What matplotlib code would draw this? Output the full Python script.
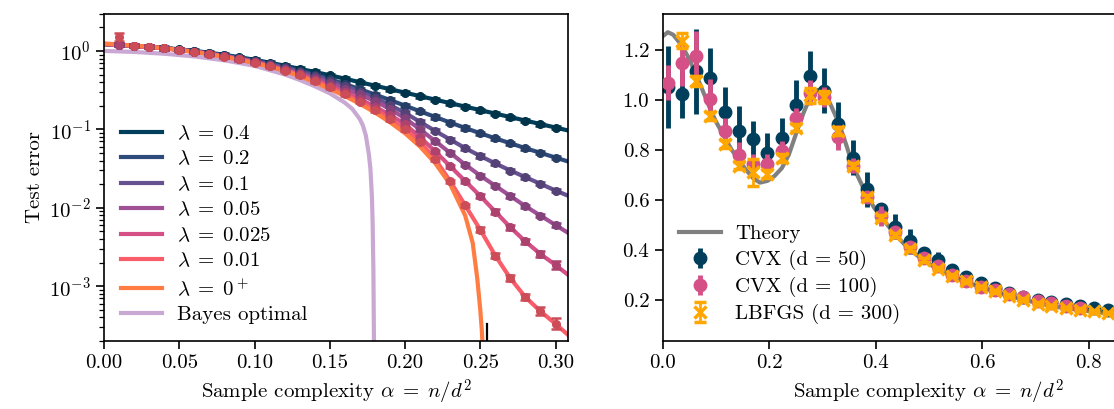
import numpy as np
import matplotlib.pyplot as plt
import matplotlib as mpl
from matplotlib.colors import to_rgb

mpl.rcParams["font.family"] = "serif"
mpl.rcParams["font.serif"] = ["cmr10"]
mpl.rcParams["mathtext.fontset"] = "cm"
mpl.rcParams["axes.unicode_minus"] = False
mpl.rcParams["axes.formatter.use_mathtext"] = True
mpl.rcParams["font.size"] = 15

# ---------------- left panel: theory curves (log10 of test error) ----------------
alpha_grid = [0.00, 0.01, 0.02, 0.03, 0.04, 0.05, 0.06, 0.07, 0.08, 0.09,
              0.10, 0.11, 0.12, 0.13, 0.14, 0.15, 0.16, 0.17, 0.18, 0.19,
              0.20, 0.21, 0.22, 0.23, 0.24, 0.25, 0.26, 0.27, 0.28, 0.29,
              0.30, 0.31]

log_l04 = [0.085, 0.077, 0.066, 0.053, 0.038, 0.020, 0.000, -0.023, -0.050, -0.080,
           -0.113, -0.150, -0.188, -0.228, -0.268, -0.310, -0.354, -0.399, -0.443, -0.488,
           -0.532, -0.577, -0.621, -0.666, -0.710, -0.755, -0.799, -0.844, -0.888, -0.933,
           -0.977, -1.022]
log_l02 = [0.086, 0.077, 0.066, 0.052, 0.036, 0.017, -0.005, -0.030, -0.058, -0.089,
           -0.124, -0.162, -0.204, -0.250, -0.302, -0.360, -0.422, -0.488, -0.556, -0.626,
           -0.698, -0.770, -0.842, -0.913, -0.983, -1.050, -1.115, -1.178, -1.240, -1.300,
           -1.360, -1.420]
log_l01 = [0.087, 0.077, 0.066, 0.051, 0.035, 0.015, -0.008, -0.034, -0.063, -0.096,
           -0.132, -0.172, -0.215, -0.263, -0.318, -0.380, -0.445, -0.520, -0.600, -0.690,
           -0.790, -0.905, -1.020, -1.130, -1.240, -1.340, -1.435, -1.525, -1.610, -1.695,
           -1.780, -1.860]
log_l005 = [0.088, 0.078, 0.066, 0.051, 0.034, 0.014, -0.010, -0.036, -0.066, -0.100,
            -0.140, -0.183, -0.230, -0.285, -0.345, -0.410, -0.480, -0.555, -0.640, -0.740,
            -0.860, -1.000, -1.150, -1.300, -1.450, -1.590, -1.720, -1.850, -1.980, -2.100,
            -2.220, -2.340]
log_l0025 = [0.089, 0.078, 0.066, 0.051, 0.034, 0.013, -0.011, -0.038, -0.069, -0.104,
             -0.145, -0.190, -0.240, -0.300, -0.370, -0.445, -0.525, -0.615, -0.710, -0.815,
             -0.935, -1.100, -1.280, -1.470, -1.660, -1.850, -2.050, -2.250, -2.430, -2.590,
             -2.730, -2.880]
log_l001 = [0.090, 0.079, 0.066, 0.051, 0.033, 0.012, -0.012, -0.040, -0.072, -0.108,
            -0.150, -0.195, -0.250, -0.310, -0.385, -0.465, -0.555, -0.650, -0.755, -0.870,
            -1.000, -1.160, -1.380, -1.660, -1.970, -2.280, -2.610, -2.900, -3.140, -3.320,
            -3.480, -3.650]

alpha_zero = [0.00, 0.01, 0.02, 0.03, 0.04, 0.05, 0.06, 0.07, 0.08, 0.09,
              0.10, 0.11, 0.12, 0.13, 0.14, 0.15, 0.16, 0.17, 0.18, 0.19,
              0.20, 0.21, 0.22, 0.23, 0.24, 0.245, 0.248, 0.250, 0.251, 0.252, 0.2525]
log_l0 = [0.095, 0.082, 0.068, 0.052, 0.034, 0.012, -0.013, -0.042, -0.075, -0.113,
          -0.155, -0.200, -0.255, -0.320, -0.400, -0.485, -0.575, -0.675, -0.785, -0.910,
          -1.050, -1.220, -1.430, -1.700, -2.100, -2.450, -2.900, -3.300, -3.550, -3.900,
          -4.500]

alpha_bayes = [0.00, 0.02, 0.04, 0.06, 0.08, 0.10, 0.12, 0.13, 0.14, 0.15, 0.16,
               0.165, 0.17, 0.172, 0.174, 0.176, 0.177, 0.178, 0.1785, 0.179, 0.1795]
log_bayes = [0.000, -0.013, -0.036, -0.070, -0.120, -0.190, -0.300, -0.370, -0.450,
             -0.540, -0.660, -0.740, -0.870, -0.950, -1.080, -1.320, -1.500, -1.850,
             -2.200, -2.800, -4.000]

# simulations sit on the theory curves at alpha = 0.01 ... 0.30
alpha_sim_left = alpha_grid[1:31]
err_dec_small = [0.02] * 30
err_dec_l0025 = [0.02] * 25 + [0.03, 0.03, 0.03, 0.04, 0.05]
err_dec_l001 = [0.05] + [0.02] * 23 + [0.03, 0.03, 0.04, 0.04, 0.05, 0.07]
first_sim_l001 = 0.176  # outlier at alpha = 0.01

lambdas = [r"$\lambda\;=\;0.4$", r"$\lambda\;=\;0.2$", r"$\lambda\;=\;0.1$",
           r"$\lambda\;=\;0.05$", r"$\lambda\;=\;0.025$", r"$\lambda\;=\;0.01$"]
lam_logs = [log_l04, log_l02, log_l01, log_l005, log_l0025, log_l001]
lam_errs = [err_dec_small, err_dec_small, err_dec_small, err_dec_small,
            err_dec_l0025, err_dec_l001]
lam_colors = ["#003f5c", "#2f4b7c", "#665191", "#a05195", "#d45087", "#f95d6a"]
zero_color = "#ff7c43"
bayes_color = "#c9a9d3"

# ---------------- right panel ----------------
alpha_sim = [0.010, 0.037, 0.063, 0.090, 0.117, 0.143, 0.170, 0.197, 0.224, 0.250,
             0.277, 0.304, 0.330, 0.357, 0.384, 0.410, 0.437, 0.464, 0.490, 0.517,
             0.544, 0.570, 0.597, 0.624, 0.650, 0.677, 0.704, 0.730, 0.757, 0.784,
             0.810, 0.837]

cvx50 = [1.053, 1.024, 1.116, 1.089, 0.951, 0.876, 0.843, 0.787, 0.849, 0.980,
         1.096, 1.037, 0.904, 0.769, 0.643, 0.563, 0.493, 0.433, 0.387, 0.360,
         0.320, 0.290, 0.265, 0.245, 0.228, 0.212, 0.200, 0.190, 0.182, 0.174,
         0.167, 0.160]
cvx50_err = [0.165, 0.095, 0.170, 0.120, 0.100, 0.100, 0.075, 0.080, 0.080, 0.100,
             0.100, 0.090, 0.090, 0.070, 0.070, 0.020, 0.050, 0.050, 0.020, 0.030,
             0.015, 0.010, 0.010, 0.010, 0.010, 0.010, 0.010, 0.008, 0.008, 0.008,
             0.008, 0.008]

cvx100 = [1.069, 1.147, 1.177, 1.004, 0.877, 0.780, 0.744, 0.744, 0.797, 0.929,
          1.029, 1.011, 0.851, 0.737, 0.613, 0.536, 0.473, 0.409, 0.367, 0.333,
          0.300, 0.273, 0.251, 0.240, 0.223, 0.209, 0.196, 0.187, 0.176, 0.167]
cvx100_err = [0.070, 0.090, 0.100, 0.080, 0.050, 0.050, 0.040, 0.040, 0.040, 0.040,
              0.050, 0.040, 0.050, 0.030, 0.020, 0.040, 0.020, 0.020, 0.015, 0.010,
              0.010, 0.010, 0.010, 0.010, 0.010, 0.010, 0.010, 0.010, 0.010, 0.010]

lbfgs = [1.237, 1.076, 0.937, 0.824, 0.737, 0.710, 0.704, 0.767, 0.889, 1.020,
         1.013, 0.876, 0.737, 0.611, 0.529, 0.460, 0.403, 0.360, 0.323, 0.296,
         0.273, 0.251, 0.233, 0.216, 0.200, 0.184, 0.173, 0.167, 0.160, 0.153,
         0.147]
lbfgs_err = [0.030, 0.020, 0.015, 0.015, 0.015, 0.055, 0.015, 0.015, 0.015, 0.030,
             0.025, 0.015, 0.010, 0.010, 0.010, 0.008, 0.008, 0.008, 0.006, 0.006,
             0.005, 0.005, 0.005, 0.005, 0.005, 0.005, 0.005, 0.005, 0.005, 0.005,
             0.005]

alpha_theory = [0.000, 0.010, 0.020, 0.036, 0.050, 0.062, 0.075, 0.089, 0.100, 0.116,
                0.130, 0.143, 0.157, 0.170, 0.183, 0.197, 0.210, 0.224, 0.237, 0.251,
                0.265, 0.278, 0.291, 0.300, 0.304, 0.317, 0.331, 0.345, 0.358, 0.372,
                0.385, 0.398, 0.412, 0.437, 0.464, 0.490, 0.517, 0.544, 0.570, 0.597,
                0.624, 0.650, 0.677, 0.704, 0.730, 0.757, 0.784, 0.810, 0.837, 0.870,
                0.900, 0.950, 1.000]
theory = [1.255, 1.272, 1.262, 1.220, 1.165, 1.107, 1.040, 0.967, 0.915, 0.853,
          0.800, 0.760, 0.720, 0.687, 0.669, 0.676, 0.695, 0.727, 0.780, 0.867,
          0.950, 1.015, 1.040, 1.040, 1.033, 0.975, 0.907, 0.820, 0.733, 0.670,
          0.613, 0.566, 0.527, 0.460, 0.400, 0.358, 0.322, 0.293, 0.270, 0.250,
          0.232, 0.216, 0.200, 0.186, 0.174, 0.165, 0.158, 0.151, 0.145, 0.140,
          0.135, 0.128, 0.122]


def darker(c, f=0.82):
    r, g, b = to_rgb(c)
    return (r * f, g * f, b * f)


def style_axes(ax):
    for s in ax.spines.values():
        s.set_linewidth(1.2)
    ax.tick_params(which="major", length=6, width=1.2, direction="out")
    ax.tick_params(which="minor", length=3.5, width=0.9, direction="out")


fig = plt.figure(figsize=(11.14, 4.09), dpi=100)
W, H = 1114.0, 409.0
ax1 = fig.add_axes([104 / W, 68 / H, 464 / W, 327.5 / H])
ax2 = fig.add_axes([662.5 / W, 68 / H, 532.7 / W, 327.5 / H])

# ---- left
for lab, lg, er, col in zip(lambdas, lam_logs, lam_errs, lam_colors):
    ax1.plot(alpha_grid, 10.0 ** np.array(lg), color=col, lw=3, label=lab, zorder=2)
ax1.plot(alpha_zero, 10.0 ** np.array(log_l0), color=zero_color, lw=3,
         label=r"$\lambda\;=\;0^+$", zorder=2)
ax1.plot(alpha_bayes, 10.0 ** np.array(log_bayes), color=bayes_color, lw=3,
         label="Bayes optimal", zorder=1)

for i, (lg, er, col) in enumerate(zip(lam_logs, lam_errs, lam_colors)):
    ys = np.array(lg[1:31])
    if i == len(lam_logs) - 1:
        ys[0] = first_sim_l001
    e = np.array(er)
    y = 10.0 ** ys
    lo = y - 10.0 ** (ys - e)
    hi = 10.0 ** (ys + e) - y
    ax1.errorbar(alpha_sim_left, y, yerr=[lo, hi], fmt="o", ms=5.5,
                 color=darker(col), ecolor=darker(col), elinewidth=1.8,
                 capsize=3.5, capthick=1.8, zorder=3)

ax1.axvline(0.2547, ymin=0, ymax=0.052, color="k", lw=1.6, zorder=4)

ax1.set_yscale("log")
ax1.set_ylim(2e-4, 3.0)
ax1.set_xlim(0, 0.3083)
ax1.set_xticks([0.0, 0.05, 0.10, 0.15, 0.20, 0.25, 0.30])
ax1.xaxis.set_major_formatter(mpl.ticker.FormatStrFormatter("%.2f"))
ax1.set_xlabel(r"Sample complexity $\alpha\;=\;n/d^2$")
ax1.set_ylabel("Test error")
style_axes(ax1)
ax1.legend(loc="lower left", frameon=False, handlelength=2.0,
           labelspacing=0.33, borderaxespad=0.4, handletextpad=0.7)

# ---- right
ax2.plot(alpha_theory, theory, color="gray", lw=3, label="Theory", zorder=1)
ax2.errorbar(alpha_sim, cvx50, yerr=cvx50_err, fmt="o", ms=9, color="#003f5c",
             elinewidth=3.5, capsize=0, label="CVX (d = 50)", zorder=2)
ax2.errorbar(alpha_sim[:30], cvx100, yerr=cvx100_err, fmt="o", ms=9,
             color="#d45087", elinewidth=3.5, capsize=0, label="CVX (d = 100)", zorder=3)
ax2.errorbar(alpha_sim[1:], lbfgs, yerr=lbfgs_err, fmt="x", ms=8, mew=2.5,
             color="#ffa600", elinewidth=2, capsize=4, capthick=2,
             label="LBFGS (d = 300)", zorder=4)

ax2.set_xlim(0, 1.0)
ax2.set_ylim(0.034, 1.347)
ax2.set_xticks([0.0, 0.2, 0.4, 0.6, 0.8])
ax2.set_yticks([0.2, 0.4, 0.6, 0.8, 1.0, 1.2])
ax2.xaxis.set_major_formatter(mpl.ticker.FormatStrFormatter("%.1f"))
ax2.yaxis.set_major_formatter(mpl.ticker.FormatStrFormatter("%.1f"))
ax2.set_xlabel(r"Sample complexity $\alpha\;=\;n/d^2$")
style_axes(ax2)
ax2.legend(loc="lower left", frameon=False, handlelength=2.0,
           labelspacing=0.33, borderaxespad=0.4, handletextpad=0.7)

fig.savefig("out.png", dpi=100)
